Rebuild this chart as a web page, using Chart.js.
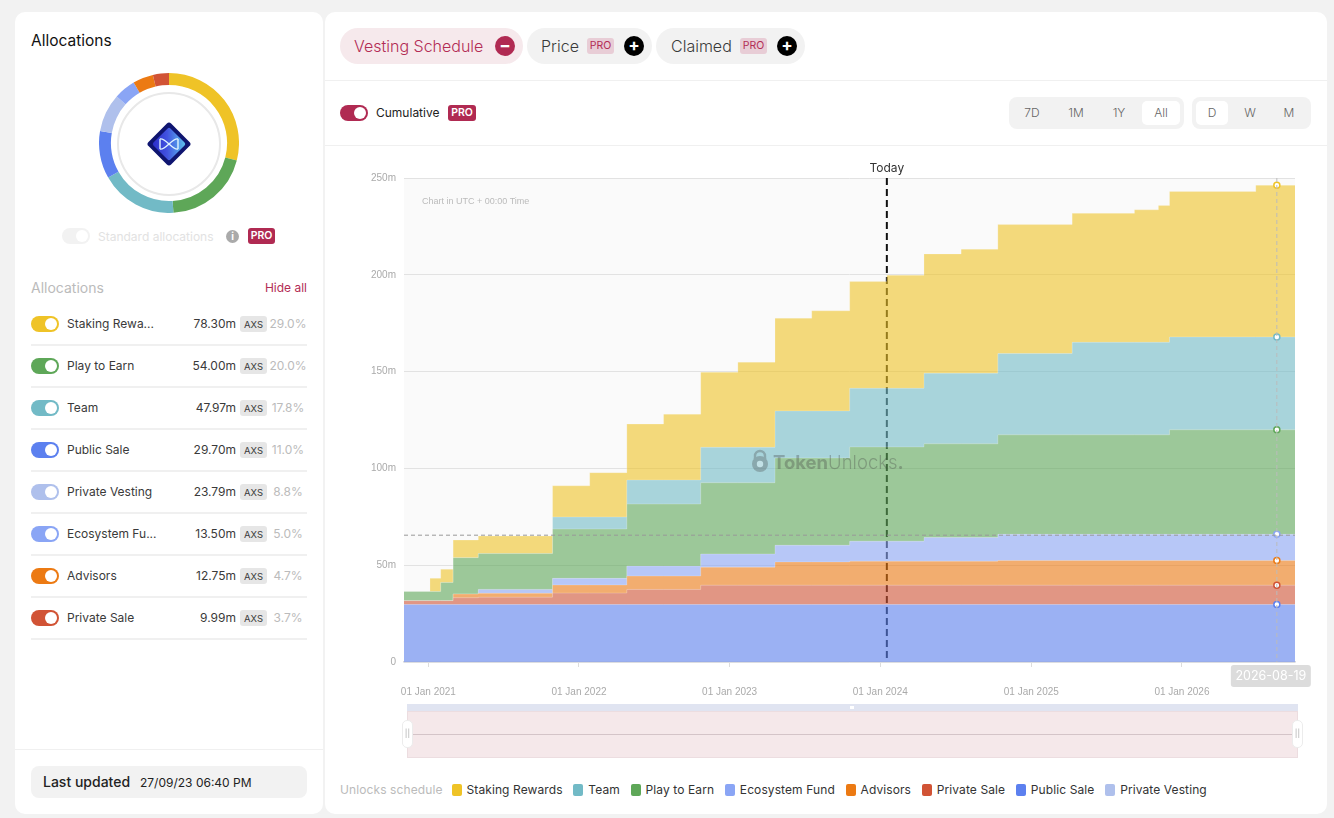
<!DOCTYPE html>
<html>
<head>
<meta charset="utf-8">
<title>Vesting Schedule</title>
<script src="https://cdn.jsdelivr.net/npm/chart.js@4"></script>
<style>
  * { box-sizing: border-box; }
  html, body { margin: 0; width: 1334px; height: 818px; overflow: hidden; background: #f2f2f2; font-family: Inter, "Noto Sans", sans-serif; color: #3a3a3a; }
  .abs { position: absolute; white-space: nowrap; }
  .panel { background: #fff; border-radius: 10px; }
  .line { position: absolute; height: 1px; background: #f0f0f0; }
  .pill { position: absolute; height: 36px; border-radius: 18px; background: #f2f2f2; font-size: 16px; font-weight: 300; line-height: 36px; }
  .badge { position: absolute; width: 27px; height: 16px; border-radius: 3px; background: #b02a52; color: #fff; font-size: 10.5px; font-weight: 600; line-height: 16px; text-align: center; }
  .badge.soft { background: #e8cdd6; color: #b32c55; font-weight: 400; }
  .round { position: absolute; width: 20px; height: 20px; border-radius: 50%; background: #000; color: #fff; font-size: 17px; font-weight: 700; line-height: 19px; text-align: center; }
  .toggle { position: absolute; width: 28px; height: 16px; border-radius: 8px; }
  .toggle::after { content: ""; position: absolute; right: 2px; top: 2px; width: 12px; height: 12px; border-radius: 50%; background: #fff; }
  .seg { position: absolute; top: 97px; height: 32px; background: #f2f2f2; border-radius: 8px; }
  .segItem { position: absolute; top: 4px; height: 24px; font-size: 12px; font-weight: 300; line-height: 24px; text-align: center; color: #666; border-radius: 5px; }
  .segItem.on { background: #fff; }
  .grip { position: absolute; width: 11px; height: 28px; top: 720px; border-radius: 5px; background: #fff; border: 1.5px solid #ececec; font-size: 8px; line-height: 24px; text-align: center; color: #aaa; }
  #legend { position: absolute; left: 340px; top: 782px; display: flex; align-items: center; font-size: 12px; white-space: nowrap; letter-spacing: .1px; }
  #legend i { display: inline-block; width: 10px; height: 12px; border-radius: 2px; margin-right: 5px; }
  #legend span { margin-right: 10.7px; color: #333; }
</style>
</head>
<body>
<div class="abs panel" style="left:15px;top:12px;width:308px;height:802px"></div>
<div class="abs panel" style="left:325px;top:12px;width:1002px;height:802px"></div>

<!-- left column -->
<div class="abs" style="left:31px;top:31px;font-size:15.5px;color:#111">Allocations</div>
<canvas id="donut" width="140" height="140" class="abs" style="left:99px;top:73px"></canvas>
<div class="abs" style="left:117px;top:92px;width:104px;height:104px;border:2px solid #e8e8e8;border-radius:50%"></div>
<svg class="abs" style="left:145px;top:120px" width="48" height="48" viewBox="0 0 48 48">
  <defs><linearGradient id="g" x1="1" y1="0" x2="0" y2="1"><stop offset="0" stop-color="#5ec4ee"/><stop offset=".55" stop-color="#4254e0"/><stop offset="1" stop-color="#2a2bc8"/></linearGradient></defs>
  <rect x="8" y="8" width="32" height="32" rx="3" transform="rotate(45 24 24)" fill="#0f1570"/>
  <rect x="12" y="12" width="24" height="24" rx="2" transform="rotate(45 24 24)" fill="url(#g)"/>
  <path d="M15 19 C20 17 28 31 33 29 M15 29 C20 31 28 17 33 19 M15 19 V29 M33 19 V29" fill="none" stroke="#dff4ff" stroke-width="1.4"/>
</svg>
<div class="toggle" style="left:62px;top:228px;background:#f2f2f2"></div>
<div class="abs" style="left:98px;top:229px;font-size:12px;color:#e2e2e2">Standard allocations</div>
<div class="abs" style="left:226px;top:230px;width:13px;height:13px;border-radius:50%;background:#aaa;color:#fff;font-size:10px;font-weight:700;line-height:13px;text-align:center">i</div>
<div class="badge" style="left:248px;top:228px">PRO</div>
<div class="abs" style="left:31px;top:279px;font-size:14px;color:#bbb">Allocations</div>
<div class="abs" style="right:1027px;top:280px;font-size:12px;color:#b32c55">Hide all</div>
<div id="rows"></div>
<div class="line" style="left:15px;top:749px;width:308px"></div>
<div class="abs" style="left:31px;top:766px;width:276px;height:32px;border-radius:8px;background:#f2f2f2"></div>
<div class="abs" style="left:43px;top:773px;font-size:14px;font-weight:500;color:#222">Last updated</div>
<div class="abs" style="left:140px;top:775px;font-size:12px;color:#222">27/09/23 06:40 PM</div>

<!-- header of the right column -->
<div class="pill" style="left:340px;width:183px;top:28px;background:#f6e9ec;color:#b32c55;padding-left:14px">Vesting Schedule</div>
<div class="round" style="left:495px;top:36px;background:#b02a52">&minus;</div>
<div class="pill" style="left:527px;width:125px;top:28px;padding-left:14px">Price</div>
<div class="badge soft" style="left:587px;top:38px">PRO</div>
<div class="round" style="left:624px;top:36px">+</div>
<div class="pill" style="left:656px;width:149px;top:28px;padding-left:15px">Claimed</div>
<div class="badge soft" style="left:740px;top:38px">PRO</div>
<div class="round" style="left:777px;top:36px">+</div>
<div class="line" style="left:325px;top:80px;width:1002px"></div>
<div class="toggle" style="left:340px;top:105px;background:#b02a52"></div>
<div class="abs" style="left:376px;top:105px;font-size:12px;color:#222">Cumulative</div>
<div class="badge" style="left:448px;top:105px;width:28px">PRO</div>
<div class="seg" style="left:1009px;width:175px">
  <div class="segItem" style="left:4px;width:38px">7D</div>
  <div class="segItem" style="left:48px;width:38px">1M</div>
  <div class="segItem" style="left:91px;width:38px">1Y</div>
  <div class="segItem on" style="left:133px;width:38px">All</div>
</div>
<div class="seg" style="left:1192px;width:119px">
  <div class="segItem on" style="left:4px;width:32px">D</div>
  <div class="segItem" style="left:42px;width:32px">W</div>
  <div class="segItem" style="left:81px;width:32px">M</div>
</div>
<div class="line" style="left:325px;top:145px;width:1002px"></div>

<!-- main chart -->
<canvas id="chart" width="980" height="560" class="abs" style="left:340px;top:150px"></canvas>
<div class="abs" style="left:422px;top:196px;font-family:'Liberation Sans',sans-serif;font-size:9px;color:#bbb">Chart in UTC + 00:00 Time</div>
<svg class="abs" style="left:750px;top:449px;opacity:.3" width="20" height="24" viewBox="0 0 20 24">
  <path d="M5 10 V7 a5 5 0 0 1 10 0 V10" fill="none" stroke="#444" stroke-width="2.4"/>
  <circle cx="10" cy="15" r="8" fill="#444"/><circle cx="10" cy="15" r="3.2" fill="#fff"/>
</svg>
<div class="abs" style="left:773px;top:451px;font-size:18.5px;color:#444;opacity:.33"><b>Token</b><span style="font-weight:300">Unlocks</span><b>.</b></div>

<!-- range slider look -->
<div class="abs" style="left:407px;top:704px;width:891px;height:7px;background:#e0e4f1"></div>
<div class="abs" style="left:850px;top:706px;width:4px;height:3px;background:#fff"></div>
<div class="abs" style="left:407px;top:711px;width:891px;height:47px;background:#f5e8ea;border:1px solid #ecdde0"></div>
<div class="abs" style="left:408px;top:734px;width:889px;height:1px;background:#d4c4c8"></div>
<div class="grip" style="left:402px">||</div>
<div class="grip" style="left:1292px">||</div>

<div id="legend"><span style="color:#bbb;margin-right:9px">Unlocks schedule</span></div>

<script>
// Allocation table (left column and doughnut)
const allocNames = ["Staking Rewa...", "Play to Earn", "Team", "Public Sale", "Private Vesting", "Ecosystem Fu...", "Advisors", "Private Sale"];
const allocAmounts = [78.30, 54.00, 47.97, 29.70, 23.79, 13.50, 12.75, 9.99];
const allocPercents = ["29.0%", "20.0%", "17.8%", "11.0%", "8.8%", "5.0%", "4.7%", "3.7%"];
const allocColors = ["#efc327", "#5ea758", "#72bac6", "#5c80ef", "#afc0ec", "#8aa5f5", "#ec7a13", "#d15335"];

// Unlock steps: each value holds until the next date
const stepDates = [
  "2020-11-03", "2021-01-05", "2021-01-31", "2021-03-02", "2021-05-02", "2021-10-29", "2022-01-27",
  "2022-04-27", "2022-07-25", "2022-10-23", "2023-01-21", "2023-04-21", "2023-07-19", "2023-10-19",
  "2024-01-17", "2024-04-16", "2024-07-15", "2024-10-12", "2025-04-10", "2025-09-08", "2025-11-05",
  "2025-12-02", "2026-06-29", "2026-08-19", "2026-10-02"
];
const privateVesting = [0, 0, 0, 0, 0, 0, 0, 0, 0, 0, 0, 0, 0, 0, 0, 0, 0, 0, 0, 0, 0, 0, 0, 0, 0];
const publicSale = [29.7, 29.7, 29.7, 29.7, 29.7, 29.7, 29.7, 29.7, 29.7, 29.7, 29.7, 29.7, 29.7, 29.7, 29.7, 29.7, 29.7, 29.7, 29.7, 29.7, 29.7, 29.7, 29.7, 29.7, 29.7];
const privateSale = [2.0, 2.0, 2.0, 3.5, 3.8, 5.9, 5.9, 7.8, 7.8, 9.99, 9.99, 9.99, 9.99, 9.99, 9.99, 9.99, 9.99, 9.99, 9.99, 9.99, 9.99, 9.99, 9.99, 9.99, 9.99];
const advisors = [0, 0, 0, 1.9, 2.0, 4.2, 4.2, 6.9, 6.9, 9.3, 9.3, 12.0, 12.0, 12.4, 12.4, 12.4, 12.4, 12.75, 12.75, 12.75, 12.75, 12.75, 12.75, 12.75, 12.75];
const ecosystemFund = [0, 0, 0, 0, 2.0, 3.4, 3.4, 5.2, 5.2, 6.8, 6.8, 8.6, 8.6, 10.3, 10.3, 12.2, 12.2, 13.5, 13.5, 13.5, 13.5, 13.5, 13.5, 13.5, 13.5];
const playToEarn = [4.7, 4.7, 9.4, 18.8, 18.5, 25.5, 25.5, 32.0, 32.0, 36.8, 36.8, 45.1, 45.1, 48.7, 48.7, 48.4, 48.4, 51.4, 51.4, 51.4, 51.4, 54, 54, 54, 54];
const team = [0, 0, 0, 0, 0, 6.2, 6.2, 12.4, 12.4, 18.3, 18.3, 24.3, 24.3, 30.3, 30.3, 36.5, 36.5, 42.0, 47.8, 47.8, 47.8, 47.97, 47.97, 47.97, 47.97];
const stakingRewards = [0, 6.8, 6.8, 9.1, 9.1, 16.1, 22.9, 28.9, 34.0, 38.8, 44.0, 47.9, 51.7, 55.1, 58.4, 61.6, 64.0, 66.6, 66.6, 68.4, 70.6, 75.1, 78.3, 78.3, 78.3];

const xTickDates = ["2021-01-01", "2022-01-01", "2023-01-01", "2024-01-01", "2025-01-01", "2026-01-01"];
const xTickLabels = ["01 Jan 2021", "01 Jan 2022", "01 Jan 2023", "01 Jan 2024", "01 Jan 2025", "01 Jan 2026"];
const todayDate = "2024-01-17";
const cursorDate = "2026-08-19";
const crossValue = 65.5;

const legendNames = ["Staking Rewards", "Team", "Play to Earn", "Ecosystem Fund", "Advisors", "Private Sale", "Public Sale", "Private Vesting"];
const legendColors = ["#efc327", "#72bac6", "#5ea758", "#8aa5f5", "#ec7a13", "#d15335", "#5c80ef", "#afc0ec"];

const ms = (d) => Date.parse(d + "T00:00:00Z");
const alpha = (hex) => hex + "99"; // areas are 60% opaque

// Left list
const rows = document.getElementById("rows");
allocNames.forEach((name, i) => {
  const y = 316 + i * 42;
  rows.innerHTML += `
    <div class="toggle" style="left:31px;top:${y}px;background:${allocColors[i]}"></div>
    <div class="abs" style="left:67px;top:${y}px;font-size:12px">${name}</div>
    <div class="abs" style="right:1098px;top:${y}px;font-size:12px">${allocAmounts[i].toFixed(2)}m</div>
    <div class="abs" style="left:240px;top:${y}px;width:27px;height:16px;border-radius:3px;background:#e6e6e6;font-size:9.5px;line-height:17px;text-align:center">AXS</div>
    <div class="abs" style="left:268px;top:${y}px;width:40px;text-align:center;font-size:12px;color:#bbb">${allocPercents[i]}</div>
    <div class="line" style="left:31px;top:${y + 28}px;width:276px;height:1.5px"></div>`;
});

// Bottom legend
const legend = document.getElementById("legend");
legendNames.forEach((name, i) => {
  legend.innerHTML += `<i style="background:${legendColors[i]}"></i><span>${name}</span>`;
});

new Chart(document.getElementById("donut"), {
  type: "doughnut",
  data: {
    labels: allocNames,
    datasets: [{ data: allocAmounts, backgroundColor: allocColors, borderWidth: 0 }],
  },
  options: {
    responsive: false,
    animation: false,
    cutout: "83%",
    plugins: { legend: { display: false }, tooltip: { enabled: false } },
  },
});

// Plot background, Today line and the hover guides
const guides = {
  id: "guides",
  beforeDraw(chart) {
    const { ctx, chartArea: a } = chart;
    ctx.fillStyle = "#fafafa";
    ctx.fillRect(a.left, a.top, a.width, a.height);
  },
  beforeDatasetsDraw(chart) {
    const { ctx, chartArea: a, scales } = chart;
    const tx = scales.x.getPixelForValue(ms(todayDate));
    ctx.save();
    ctx.strokeStyle = "#111";
    ctx.lineWidth = 2;
    ctx.setLineDash([7, 4]);
    ctx.beginPath();
    ctx.moveTo(tx, a.top);
    ctx.lineTo(tx, a.bottom);
    ctx.stroke();
    ctx.restore();
  },
  afterDatasetsDraw(chart) {
    const { ctx, chartArea: a, scales } = chart;
    const cx = scales.x.getPixelForValue(ms(cursorDate));
    const cy = scales.y.getPixelForValue(crossValue);
    const tx = scales.x.getPixelForValue(ms(todayDate));
    ctx.save();
    ctx.lineWidth = 1;
    ctx.setLineDash([4, 3]);
    ctx.strokeStyle = "#999";
    ctx.beginPath();
    ctx.moveTo(a.left, cy);
    ctx.lineTo(a.right, cy);
    ctx.stroke();
    ctx.strokeStyle = "#bbb";
    ctx.beginPath();
    ctx.moveTo(cx, a.top);
    ctx.lineTo(cx, a.bottom);
    ctx.stroke();
    ctx.setLineDash([]);
    ctx.font = "12px Inter";
    ctx.textAlign = "center";
    ctx.fillStyle = "#333";
    ctx.fillText("Today", tx, a.top - 6);
    // date box under the cursor
    ctx.fillStyle = "#dcdcdc";
    ctx.beginPath();
    ctx.roundRect(cx - 46, a.bottom + 3, 80, 22, 3);
    ctx.fill();
    ctx.fillStyle = "#fff";
    ctx.font = "12.5px Inter";
    ctx.fillText(cursorDate, cx - 6, a.bottom + 18);
    ctx.restore();
  },
};

const cursorIndex = stepDates.indexOf(cursorDate);
const makeArea = (label, values, color, fill) => ({
  label,
  data: values.map((v, i) => ({ x: ms(stepDates[i]), y: v })),
  stepped: "before",
  fill,
  backgroundColor: alpha(color),
  borderColor: "rgba(255,255,255,0.2)",
  borderWidth: 1,
  pointRadius: (c) => (c.dataIndex === cursorIndex && values[c.dataIndex] > 0 ? 3 : 0),
  pointBackgroundColor: "#fff",
  pointBorderColor: color,
  pointBorderWidth: 1.5,
});

new Chart(document.getElementById("chart"), {
  type: "line",
  data: {
    datasets: [
      makeArea("Private Vesting", privateVesting, "#afc0ec", "origin"),
      makeArea("Public Sale", publicSale, "#5c80ef", "-1"),
      makeArea("Private Sale", privateSale, "#d15335", "-1"),
      makeArea("Advisors", advisors, "#ec7a13", "-1"),
      makeArea("Ecosystem Fund", ecosystemFund, "#8aa5f5", "-1"),
      makeArea("Play to Earn", playToEarn, "#5ea758", "-1"),
      makeArea("Team", team, "#72bac6", "-1"),
      makeArea("Staking Rewards", stakingRewards, "#efc327", "-1"),
    ],
  },
  plugins: [guides],
  options: {
    responsive: false,
    animation: false,
    layout: { padding: { top: 28, right: 25 } },
    plugins: { legend: { display: false }, tooltip: { enabled: false } },
    scales: {
      x: {
        type: "linear",
        min: ms(stepDates[0]),
        max: ms(stepDates[stepDates.length - 1]),
        afterFit: (s) => { s.height = 48; },
        afterBuildTicks: (s) => { s.ticks = xTickDates.map((d) => ({ value: ms(d) })); },
        grid: { drawOnChartArea: false, tickLength: 5, tickColor: "#ddd" },
        border: { color: "#d6d8de", width: 1.5 },
        ticks: {
          autoSkip: false,
          maxRotation: 0,
          padding: 19,
          color: "#aaa",
          font: { family: "Liberation Sans", size: 10 },
          callback: (v) => xTickLabels[xTickDates.findIndex((d) => ms(d) === v)],
        },
      },
      y: {
        stacked: true,
        min: 0,
        max: 250,
        afterFit: (s) => { s.width = 64; },
        grid: { color: "#e2e2e2", drawTicks: false },
        border: { display: false },
        ticks: {
          stepSize: 50,
          padding: 8,
          color: "#aaa",
          font: { family: "Liberation Sans", size: 10 },
          callback: (v) => (v === 0 ? "0" : v + "m"),
        },
      },
    },
  },
});
</script>
</body>
</html>
